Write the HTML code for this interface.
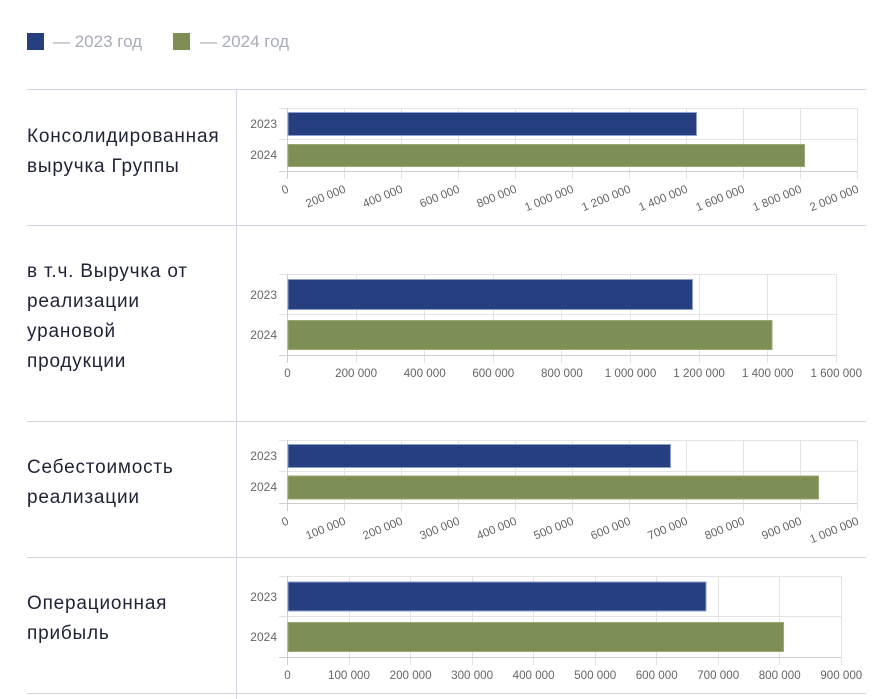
<!DOCTYPE html>
<html><head><meta charset="utf-8"><style>
html,body{margin:0;padding:0;background:#fff;}
svg{display:block;}
.t{font-family:"Liberation Sans",Arial,sans-serif;font-size:19px;fill:#1f2336;letter-spacing:0.8px;}
.lg{font-family:"Liberation Sans",Arial,sans-serif;font-size:17px;fill:#a8acb8;}
.ax{font-family:"Liberation Sans",Arial,sans-serif;font-size:11.6px;fill:#666;}
.cat{font-family:"Liberation Sans",Arial,sans-serif;font-size:12px;fill:#666;}
.g{stroke:#e3e3e3;stroke-width:1;fill:none;}
.a{stroke:#cfcfcf;stroke-width:1;fill:none;}
.sep{stroke:#d2d5e2;stroke-width:1;fill:none;}
.b1{fill:#253f80;stroke:#8d9fcb;stroke-width:1;}
.b2{fill:#7e8f55;stroke:#9aa873;stroke-width:1;}
</style></head><body>
<svg width="889" height="699" viewBox="0 0 889 699" xmlns="http://www.w3.org/2000/svg">
<rect width="889" height="699" fill="#fff"/>
<!-- legend -->
<rect x="27" y="33" width="17" height="17" fill="#253f80"/>
<text class="lg" x="53" y="47">— 2023 год</text>
<rect x="173" y="33" width="17" height="17" fill="#7e8f55"/>
<text class="lg" x="200" y="47">— 2024 год</text>

<!-- section separators -->
<path class="sep" d="M27 89.5H866M27 225.5H866M27 421.5H866M27 557.5H866M27 693.5H866M236.5 89V699"/>

<!-- titles -->
<text class="t" x="27" y="142">Консолидированная</text>
<text class="t" x="27" y="172">выручка Группы</text>
<text class="t" x="27" y="277">в т.ч. Выручка от</text>
<text class="t" x="27" y="307">реализации</text>
<text class="t" x="27" y="337">урановой</text>
<text class="t" x="27" y="367">продукции</text>
<text class="t" x="27" y="473">Себестоимость</text>
<text class="t" x="27" y="503">реализации</text>
<text class="t" x="27" y="609">Операционная</text>
<text class="t" x="27" y="639">прибыль</text>

<!-- ===== Chart 1 ===== -->
<path class="g" d="M344.5 108V179M401.5 108V179M458.5 108V179M515.5 108V179M572.5 108V179M629.5 108V179M686.5 108V179M743.5 108V179M800.5 108V179M857.5 108V179"/>
<path class="g" d="M279 108.5H857M279 139.5H857"/>
<path class="a" d="M279 171.5H857M287.5 108V179"/>
<rect class="b1" x="288" y="112.5" width="408.5" height="23"/>
<rect class="b2" x="288" y="144.5" width="516.5" height="22"/>
<text class="cat" x="277" y="128" text-anchor="end">2023</text>
<text class="cat" x="277" y="159" text-anchor="end">2024</text>
<g class="ax" text-anchor="end">
<text transform="translate(289.5,192) rotate(-22)">0</text>
<text transform="translate(346.5,192) rotate(-22)">200 000</text>
<text transform="translate(403.5,192) rotate(-22)">400 000</text>
<text transform="translate(460.5,192) rotate(-22)">600 000</text>
<text transform="translate(517.5,192) rotate(-22)">800 000</text>
<text transform="translate(574.5,192) rotate(-22)">1 000 000</text>
<text transform="translate(631.5,192) rotate(-22)">1 200 000</text>
<text transform="translate(688.5,192) rotate(-22)">1 400 000</text>
<text transform="translate(745.5,192) rotate(-22)">1 600 000</text>
<text transform="translate(802.5,192) rotate(-22)">1 800 000</text>
<text transform="translate(859.5,192) rotate(-22)">2 000 000</text>
</g>

<!-- ===== Chart 2 ===== -->
<path class="g" d="M356.5 274V363M424.5 274V363M493.5 274V363M561.5 274V363M630.5 274V363M699.5 274V363M767.5 274V363M836.5 274V363"/>
<path class="g" d="M279 274.5H836M279 314.5H836"/>
<path class="a" d="M279 355.5H836M287.5 274V363"/>
<rect class="b1" x="288" y="279.5" width="404.5" height="30"/>
<rect class="b2" x="288" y="320.5" width="484" height="29"/>
<text class="cat" x="277" y="299" text-anchor="end">2023</text>
<text class="cat" x="277" y="339" text-anchor="end">2024</text>
<g class="ax" text-anchor="middle">
<text x="287.5" y="377">0</text>
<text x="356.1" y="377">200 000</text>
<text x="424.7" y="377">400 000</text>
<text x="493.3" y="377">600 000</text>
<text x="561.9" y="377">800 000</text>
<text x="630.5" y="377">1 000 000</text>
<text x="699.1" y="377">1 200 000</text>
<text x="767.7" y="377">1 400 000</text>
<text x="836.3" y="377">1 600 000</text>
</g>

<!-- ===== Chart 3 ===== -->
<path class="g" d="M344.5 440V511M401.5 440V511M458.5 440V511M515.5 440V511M572.5 440V511M629.5 440V511M686.5 440V511M743.5 440V511M800.5 440V511M857.5 440V511"/>
<path class="g" d="M279 440.5H857M279 471.5H857"/>
<path class="a" d="M279 503.5H857M287.5 440V511"/>
<rect class="b1" x="288" y="444.5" width="382.5" height="23"/>
<rect class="b2" x="288" y="476" width="530.5" height="23"/>
<text class="cat" x="277" y="460" text-anchor="end">2023</text>
<text class="cat" x="277" y="491" text-anchor="end">2024</text>
<g class="ax" text-anchor="end">
<text transform="translate(289.5,524) rotate(-22)">0</text>
<text transform="translate(346.5,524) rotate(-22)">100 000</text>
<text transform="translate(403.5,524) rotate(-22)">200 000</text>
<text transform="translate(460.5,524) rotate(-22)">300 000</text>
<text transform="translate(517.5,524) rotate(-22)">400 000</text>
<text transform="translate(574.5,524) rotate(-22)">500 000</text>
<text transform="translate(631.5,524) rotate(-22)">600 000</text>
<text transform="translate(688.5,524) rotate(-22)">700 000</text>
<text transform="translate(745.5,524) rotate(-22)">800 000</text>
<text transform="translate(802.5,524) rotate(-22)">900 000</text>
<text transform="translate(859.5,524) rotate(-22)">1 000 000</text>
</g>

<!-- ===== Chart 4 ===== -->
<path class="g" d="M349.5 576V665M410.5 576V665M472.5 576V665M533.5 576V665M595.5 576V665M656.5 576V665M718.5 576V665M779.5 576V665M841.5 576V665"/>
<path class="g" d="M279 576.5H841M279 616.5H841"/>
<path class="a" d="M279 657.5H841M287.5 576V665"/>
<rect class="b1" x="288" y="582" width="418" height="29"/>
<rect class="b2" x="288" y="622.5" width="495.5" height="29"/>
<text class="cat" x="277" y="601" text-anchor="end">2023</text>
<text class="cat" x="277" y="641" text-anchor="end">2024</text>
<g class="ax" text-anchor="middle">
<text x="287.5" y="679">0</text>
<text x="349" y="679">100 000</text>
<text x="410.6" y="679">200 000</text>
<text x="472.1" y="679">300 000</text>
<text x="533.6" y="679">400 000</text>
<text x="595.2" y="679">500 000</text>
<text x="656.7" y="679">600 000</text>
<text x="718.2" y="679">700 000</text>
<text x="779.7" y="679">800 000</text>
<text x="841.3" y="679">900 000</text>
</g>
</svg>
</body></html>
